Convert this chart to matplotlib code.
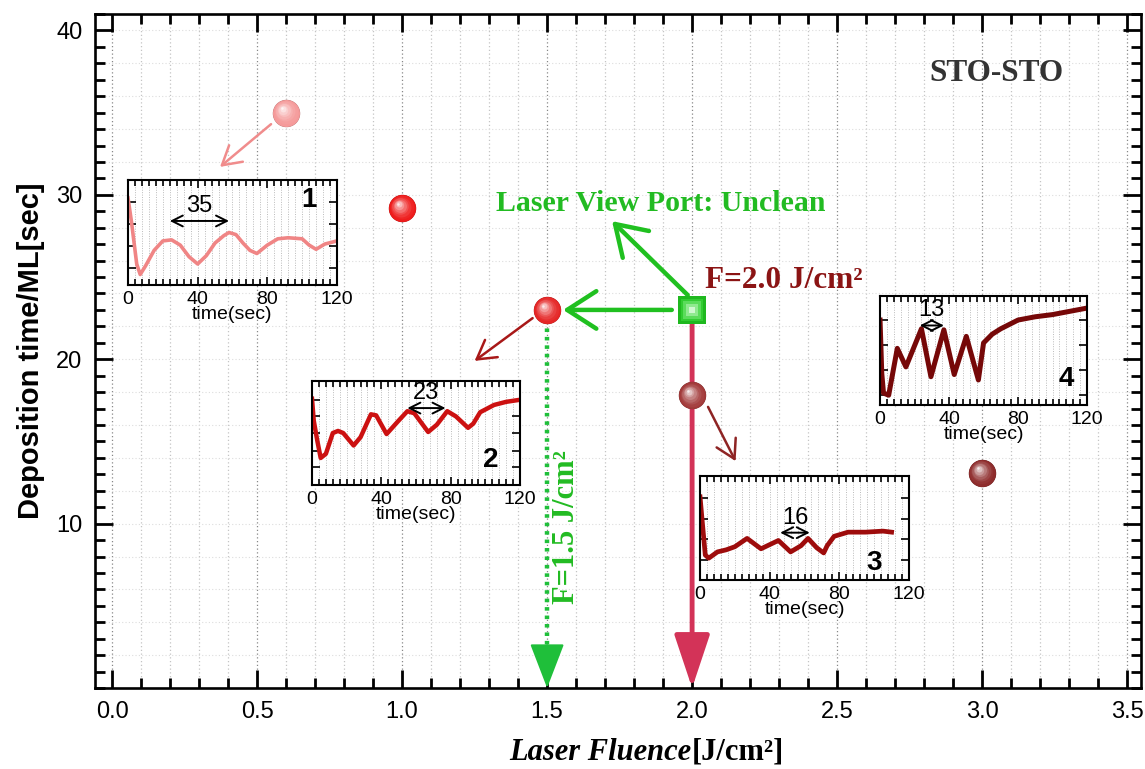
#! /usr/bin/env python3

import numpy as np
import matplotlib
matplotlib.use("Agg")
import matplotlib.pyplot as plt
import matplotlib.colors as mcolors
from matplotlib.transforms import offset_copy
from matplotlib.ticker import MultipleLocator


# fluence / deposition time points
fluence = [0.6, 1.0, 1.5, 2.0, 3.0]
dep_time = [35.0, 29.2, 23.0, 17.8, 13.1]
point_colors = ["#f59a9a", "#ee1c1c", "#e52626", "#a23a3a", "#8e2c2c"]

# unclean view port point
port_fluence = 2.0
port_time = 23.0

# RHEED oscillation traces (normalised intensity)
t1 = [0, 2, 5, 7, 10, 15, 20, 25, 30, 35, 40, 45, 50, 55, 58, 62, 66, 70, 74, 80, 86, 92, 100, 104, 108, 113, 120]
v1 = [0.83, 0.60, 0.20, 0.10, 0.18, 0.33, 0.42, 0.43, 0.38, 0.27, 0.20, 0.28, 0.40, 0.47, 0.50, 0.48, 0.40, 0.33, 0.30, 0.38, 0.44, 0.45, 0.44, 0.38, 0.34, 0.39, 0.42]

t2 = [0, 1, 3, 5, 8, 12, 15, 18, 24, 28, 34, 37, 43, 50, 55, 59, 67, 72, 78, 83, 90, 93, 97, 105, 112, 120]
v2 = [0.83, 0.62, 0.43, 0.26, 0.30, 0.50, 0.52, 0.50, 0.38, 0.46, 0.68, 0.67, 0.49, 0.62, 0.71, 0.69, 0.51, 0.58, 0.71, 0.66, 0.55, 0.59, 0.70, 0.77, 0.80, 0.82]

t3 = [0, 1, 3, 5, 10, 15, 20, 27, 35, 40, 45, 52, 58, 62, 67, 71, 73, 77, 85, 95, 105, 110]
v3 = [0.80, 0.61, 0.24, 0.21, 0.27, 0.29, 0.32, 0.40, 0.30, 0.34, 0.38, 0.27, 0.33, 0.40, 0.31, 0.26, 0.33, 0.42, 0.46, 0.46, 0.47, 0.46]

t4 = [0, 1, 2, 5, 10, 15, 24, 29.5, 37, 43, 50, 57, 60, 65, 70, 80, 90, 100, 110, 120]
v4 = [0.78, 0.29, 0.11, 0.09, 0.52, 0.35, 0.70, 0.26, 0.69, 0.28, 0.63, 0.23, 0.57, 0.65, 0.70, 0.78, 0.81, 0.83, 0.86, 0.89]

# oscillation periods marked in each trace
periods = ["35", "23", "16", "13"]
period_span = [(24, 58), (55, 77), (46, 63), (23, 37)]


# set matplotlib parameters
plt.rcParams["font.family"] = ["Liberation Sans", "DejaVu Sans"]
plt.rcParams["xtick.direction"] = "in"
plt.rcParams["ytick.direction"] = "in"
plt.rcParams["figure.facecolor"] = "white"

SERIF = ["Liberation Serif", "DejaVu Serif"]


# setup figure
fig = plt.figure(figsize=(11.45, 7.69), dpi=100)
ax = fig.add_axes([0.083, 0.1053, 0.9135, 0.8765])

ax.set_xlim(-0.059, 3.548)
ax.set_ylim(0, 41)

ax.xaxis.set_major_locator(MultipleLocator(0.5))
ax.xaxis.set_minor_locator(MultipleLocator(0.1))
ax.set_yticks([10, 20, 30, 40])
ax.yaxis.set_minor_locator(MultipleLocator(1))
ax.xaxis.set_major_formatter(matplotlib.ticker.FormatStrFormatter("%.1f"))

ax.tick_params(which="both", top=True, right=True, width=2.0, labelsize=17, pad=9)
ax.tick_params(which="major", length=13)
ax.tick_params(which="minor", length=7)
for sp in ax.spines.values():
    sp.set_linewidth(1.9)

# dotted grid
for gx in np.arange(0.0, 3.55, 0.1):
    major = abs(gx / 0.5 - round(gx / 0.5)) < 1e-6
    ax.axvline(gx, color="#888888" if major else "#c4c4c4", ls=(0, (1, 2)), lw=0.9, zorder=0)
for gy in np.arange(2, 41, 2):
    ax.axhline(gy, color="#dddddd", ls=(0, (1, 2)), lw=0.8, zorder=0)

ax.set_ylabel("Deposition time/ML[sec]", fontsize=21, fontweight="bold", labelpad=8)

# x label in two styles
lbl = fig.text(0.604, 0.022, "Laser Fluence", fontsize=22, fontweight="bold",
               style="italic", family=SERIF, ha="right", va="center")
ax.annotate("[J/cm²]", xy=(1, 0.5), xycoords=lbl, fontsize=22, fontweight="bold",
            family=SERIF, ha="left", va="center")


# vertical guide lines down to the axis
ax.plot([1.5, 1.5], [22.4, 2.0], color="#1fbf3a", lw=3.2, ls=(0, (0.8, 1.1)), zorder=3)
ax.annotate("", xy=(1.5, 0.0), xytext=(1.5, 2.6),
            arrowprops=dict(arrowstyle="-|>,head_length=1.3,head_width=0.5", mutation_scale=22,
                            color="#1fbf3a", lw=1.5, shrinkA=0, shrinkB=0), zorder=3)
ax.annotate("", xy=(2.0, 0.0), xytext=(2.0, 22.4),
            arrowprops=dict(arrowstyle="-|>,head_length=1.5,head_width=0.5", mutation_scale=22,
                            color="#d33358", lw=3.5, shrinkA=0, shrinkB=0), zorder=3)

# green arrows from the view-port point
green_arrow = dict(arrowstyle="->,head_length=0.7,head_width=0.45", mutation_scale=30,
                   color="#20c020", lw=3.2, shrinkA=0, shrinkB=0)
ax.annotate("", xy=(1.555, 23.0), xytext=(1.93, 23.0), arrowprops=green_arrow, zorder=4)
ax.annotate("", xy=(1.724, 28.4), xytext=(1.985, 23.9), arrowprops=green_arrow, zorder=4)

# thin arrows pointing to the insets
thin_arrows = [((0.548, 34.3), (0.372, 31.7), "#f08c8c"),
               ((1.45, 22.5), (1.25, 19.9), "#a81818"),
               ((2.055, 17.1), (2.15, 13.8), "#8e2424")]
for start, end, col in thin_arrows:
    ax.annotate("", xy=end, xytext=start,
                arrowprops=dict(arrowstyle="->,head_length=0.6,head_width=0.35", mutation_scale=22,
                                color=col, lw=1.8, shrinkA=0, shrinkB=0), zorder=4)


# shaded spheres
def sphere(x, y, color, s=390):
    base = np.array(mcolors.to_rgb(color))
    ax.scatter([x], [y], s=s, color=base * 0.72, zorder=6, linewidths=0)
    n = 8
    for k in range(n):
        f = k / (n - 1)
        c = base + (1 - base) * (0.9 * f ** 1.6)
        tr = offset_copy(ax.transData, fig=fig, x=-3.0 * f, y=3.0 * f, units="points")
        ax.scatter([x], [y], s=s * (0.88 - 0.8 * f) ** 2 * 1.25, color=c, zorder=6 + k * 0.01,
                   linewidths=0, transform=tr)


for fx, dt, col in zip(fluence, dep_time, point_colors):
    sphere(fx, dt, col)

# green square with a soft light centre
sq_sizes = [380, 260, 160, 80, 25]
sq_colors = ["#1fb81f", "#32cc32", "#5bdc5b", "#90ea90", "#d0f8d0"]
for k, (ss, sc) in enumerate(zip(sq_sizes, sq_colors)):
    ax.scatter([port_fluence], [port_time], s=ss, marker="s", color=sc, zorder=6 + k * 0.01,
               linewidths=0)


# annotations
ax.text(3.05, 37.4, "STO-STO", fontsize=22.5, fontweight="bold", family=SERIF,
        color="#333333", ha="center", va="center")
ax.text(1.893, 29.5, "Laser View Port: Unclean", fontsize=21.5, fontweight="bold",
        family=SERIF, color="#22bb22", ha="center", va="center")
ax.text(2.045, 24.8, "F=2.0 J/cm²", fontsize=22.5, fontweight="bold", family=SERIF,
        color="#8b1414", ha="left", va="center")
ax.text(1.566, 9.8, "F=1.5 J/cm²", fontsize=22, fontweight="bold", family=SERIF,
        color="#22bb22", ha="center", va="center", rotation=90)


# inset panels
inset_pos = [[0.1118, 0.6294, 0.1825, 0.1365],
             [0.2725, 0.3693, 0.1817, 0.1352],
             [0.6114, 0.2458, 0.1825, 0.1352],
             [0.7686, 0.4733, 0.1808, 0.1417]]
traces = [(t1, v1), (t2, v2), (t3, v3), (t4, v4)]
trace_colors = ["#f08585", "#cc1111", "#9e0c0c", "#760808"]
trace_lw = [2.6, 3.2, 3.4, 3.6]
inset_yticks = [[0.16, 0.37, 0.58, 0.79],
                [0.17, 0.33, 0.50, 0.66, 0.82],
                [0.19, 0.39, 0.59, 0.785],
                [0.09, 0.32, 0.55, 0.78]]
period_y = [0.61, 0.74, 0.455, 0.73]
tag_pos = [(104, 0.81), (103, 0.24), (100, 0.16), (108, 0.24)]

for i in range(4):
    ins = fig.add_axes(inset_pos[i])
    ins.set_xlim(0, 120)
    ins.set_ylim(0, 1)
    ins.set_xticks([0, 40, 80, 120])
    ins.xaxis.set_minor_locator(MultipleLocator(4))
    ins.set_yticks(inset_yticks[i])
    ins.set_yticklabels([])
    ins.tick_params(which="both", top=True, right=True, width=1.2, labelsize=14, pad=4)
    ins.tick_params(which="major", length=6)
    ins.tick_params(which="minor", length=4)
    for sp in ins.spines.values():
        sp.set_linewidth(1.5)
    for gx in np.arange(4, 120, 4):
        ins.axvline(gx, color="#bbbbbb", ls=(0, (1, 1.5)), lw=0.7, zorder=0)
    ins.set_xlabel("time(sec)", fontsize=14, labelpad=-1)

    tt, vv = traces[i]
    ins.plot(tt, vv, color=trace_colors[i], lw=trace_lw[i], solid_joinstyle="round")

    a, b = period_span[i]
    ins.annotate("", xy=(a, period_y[i]), xytext=(b, period_y[i]),
                 arrowprops=dict(arrowstyle="<->,head_length=0.6,head_width=0.3", mutation_scale=13,
                                 lw=1.4, color="black", shrinkA=0, shrinkB=0))
    ins.text((a + b) / 2, period_y[i] + 0.04, periods[i], fontsize=17, ha="center", va="bottom")
    ins.text(tag_pos[i][0], tag_pos[i][1], str(i + 1), fontsize=20, fontweight="bold",
             ha="center", va="center")


plt.savefig("out.png", dpi=100)
